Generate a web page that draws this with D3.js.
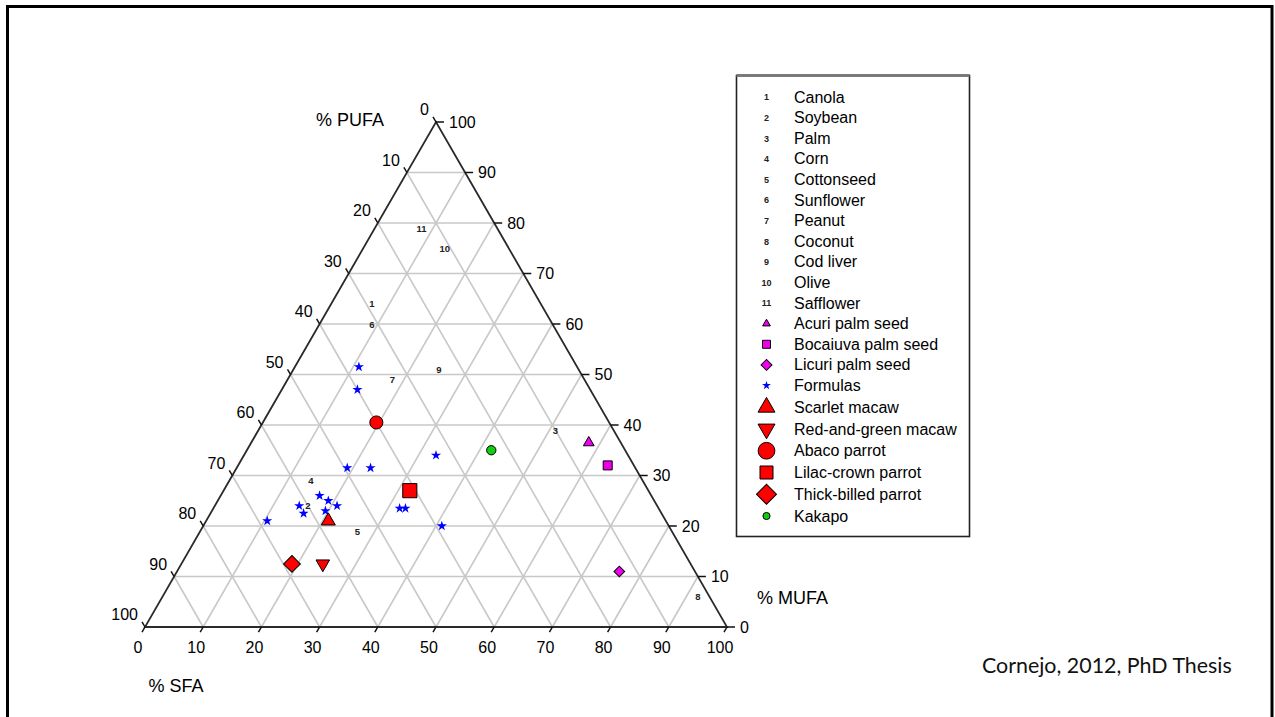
<!DOCTYPE html>
<html>
<head>
<meta charset="utf-8">
<script src="https://cdn.jsdelivr.net/npm/d3@7"></script>
<style>
  html, body { margin: 0; padding: 0; background: #fff; }
  svg { display: block; font-family: "Liberation Sans", Arial, Helvetica, sans-serif; }
</style>
</head>
<body>
<svg id="chart" width="1275" height="717"></svg>
<script>
// ---- Fatty-acid composition (% of total fatty acids) ----

// Vegetable / fish oils, drawn as numbered labels
const oilNames = ["Canola", "Soybean", "Palm", "Corn", "Cottonseed", "Sunflower",
                  "Peanut", "Coconut", "Cod liver", "Olive", "Safflower"];
const oilSFA  = [ 7, 16, 51, 14, 27,  9, 18, 92, 25, 14,  8];
const oilMUFA = [64, 24, 39, 29, 19, 60, 49,  6, 51, 75, 79];
const oilPUFA = [29, 60, 10, 57, 54, 31, 33,  2, 24, 11, 13];

// Commercial formula diets
const formulaSFA  = [11,   13, 33, 19,   23,   17, 19, 21, 14.5, 16,   19.5, 32,   33,   10.5, 41];
const formulaMUFA = [51.5, 47, 34, 31.5, 31.5, 26, 25, 24, 24,   22.5, 23,   23.5, 23.5, 21,   20];
const formulaPUFA = [37.5, 40, 33, 49.5, 45.5, 57, 56, 55, 61.5, 61.5, 57.5, 44.5, 43.5, 68.5, 39];

// Palm seeds and wild parrot crop contents
const sampleNames = ["Acuri palm seed", "Bocaiuva palm seed", "Licuri palm seed",
                     "Scarlet macaw", "Red-and-green macaw", "Abaco parrot",
                     "Lilac-crown parrot", "Thick-billed parrot", "Kakapo"];
const sampleSFA  = [58,   63.5, 76, 21, 24.3, 19.5, 32, 19,   42];
const sampleMUFA = [36.5, 32,   11, 21, 12.5, 40.5, 27, 12.5, 35];
const samplePUFA = [ 5.5,  4.5, 13, 58, 63.2, 40,   41, 68.5, 23];

// Axis ticks and titles
const tickValues = [0, 10, 20, 30, 40, 50, 60, 70, 80, 90, 100];
const gridValues = [10, 20, 30, 40, 50, 60, 70, 80, 90];
const titleSFA = "% SFA", titleMUFA = "% MUFA", titlePUFA = "% PUFA";
const formulaName = "Formulas";
const creditText = "Cornejo, 2012, PhD Thesis";

// ---- Marker styles ----
const RED = "#ff0000", MAGENTA = "#ee00ee", GREEN = "#11cc11", BLUE = "#0000ff";
const sampleStyle = {
  "Acuri palm seed":     { shape: "triangle",     fill: MAGENTA, plot: 50,  legend: 26 },
  "Bocaiuva palm seed":  { shape: "square",       fill: MAGENTA, plot: 81,  legend: 64 },
  "Licuri palm seed":    { shape: "diamond",      fill: MAGENTA, plot: 57,  legend: 60 },
  "Scarlet macaw":       { shape: "triangle",     fill: RED,     plot: 85,  legend: 125 },
  "Red-and-green macaw": { shape: "triangleDown", fill: RED,     plot: 80,  legend: 125 },
  "Abaco parrot":        { shape: "circle",       fill: RED,     plot: 135, legend: 220 },
  "Lilac-crown parrot":  { shape: "square",       fill: RED,     plot: 200, legend: 169 },
  "Thick-billed parrot": { shape: "diamond",      fill: RED,     plot: 140, legend: 200 },
  "Kakapo":              { shape: "circle",       fill: GREEN,   plot: 68,  legend: 40 }
};
const formulaStyle = { shape: "star", fill: BLUE, plot: 32, legend: 24 };

function symbolPath(shape, size) {
  const type = { triangle: d3.symbolTriangle, triangleDown: d3.symbolTriangle,
                 square: d3.symbolSquare, diamond: d3.symbolSquare,
                 circle: d3.symbolCircle, star: d3.symbolStar }[shape];
  return d3.symbol(type, size)();
}
function symbolRotation(shape) {
  return shape === "diamond" ? 45 : shape === "triangleDown" ? 180 : 0;
}

// ---- Ternary projection ----
const svg = d3.select("#chart");
const sx = d3.scaleLinear().domain([0, 100]).range([145, 727]);
const sy = d3.scaleLinear().domain([0, 100]).range([627, 122]);
const vPUFA = [sx(0), sy(0)];      // bottom-left corner: 100 % PUFA
const vSFA  = [sx(100), sy(0)];    // bottom-right corner: 100 % SFA
const vMUFA = [sx(50), sy(100)];   // apex: 100 % MUFA
function project(sfa, mufa, pufa) {
  const t = sfa + mufa + pufa;
  return [(pufa * vPUFA[0] + sfa * vSFA[0] + mufa * vMUFA[0]) / t,
          (pufa * vPUFA[1] + sfa * vSFA[1] + mufa * vMUFA[1]) / t];
}

// page frame
svg.append("rect")
  .attr("x", 7.5).attr("y", 6.5).attr("width", 1264.5).attr("height", 740)
  .attr("fill", "none").attr("stroke", "#000").attr("stroke-width", 3);

// ---- Grid ----
const line = d3.line();
const grid = svg.append("g").attr("stroke", "#c8c8c8").attr("stroke-width", 1.6).attr("fill", "none");
gridValues.forEach(k => {
  grid.append("path").attr("d", line([project(0, k, 100 - k), project(100 - k, k, 0)]));   // MUFA = k
  grid.append("path").attr("d", line([project(k, 0, 100 - k), project(k, 100 - k, 0)]));   // SFA = k
  grid.append("path").attr("d", line([project(100 - k, 0, k), project(0, 100 - k, k)]));   // PUFA = k
});

// triangle outline
svg.append("path")
  .attr("d", line([vPUFA, vSFA, vMUFA]) + "Z")
  .attr("fill", "none").attr("stroke", "#2a2a2a").attr("stroke-width", 1.8)
  .attr("stroke-linejoin", "miter");

// ---- Axes ----
const axes = svg.append("g").attr("font-size", 16).attr("fill", "#000");
const tickStroke = "#111";
tickValues.forEach(t => {
  // bottom: SFA, ticks along constant-SFA lines
  const b = project(t, 0, 100 - t);
  axes.append("line").attr("x1", b[0]).attr("y1", b[1]).attr("x2", b[0] - 3).attr("y2", b[1] + 5.2)
    .attr("stroke", tickStroke).attr("stroke-width", 1.5);
  axes.append("text").attr("x", b[0] - 7).attr("y", b[1] + 26).attr("text-anchor", "middle").text(t);

  // right: MUFA, horizontal ticks
  const r = project(100 - t, t, 0);
  axes.append("line").attr("x1", r[0]).attr("y1", r[1]).attr("x2", r[0] + 8).attr("y2", r[1])
    .attr("stroke", tickStroke).attr("stroke-width", 1.5);
  axes.append("text").attr("x", r[0] + 13).attr("y", r[1] + 5.5).attr("text-anchor", "start").text(t);

  // left: PUFA, ticks along constant-PUFA lines
  const l = project(0, 100 - t, t);
  axes.append("line").attr("x1", l[0]).attr("y1", l[1]).attr("x2", l[0] - 3).attr("y2", l[1] - 5.2)
    .attr("stroke", tickStroke).attr("stroke-width", 1.5);
  axes.append("text").attr("x", l[0] - 7).attr("y", l[1] - 7).attr("text-anchor", "end").text(t);
});

const titles = svg.append("g").attr("font-size", 18).attr("fill", "#000");
titles.append("text").attr("x", 350).attr("y", 126).attr("text-anchor", "middle").text(titlePUFA);
titles.append("text").attr("x", 757).attr("y", 604).attr("text-anchor", "start").text(titleMUFA);
titles.append("text").attr("x", 176).attr("y", 692).attr("text-anchor", "middle").text(titleSFA);

// ---- Data ----
const marks = svg.append("g");

// numbered oils
oilNames.forEach((name, i) => {
  const p = project(oilSFA[i], oilMUFA[i], oilPUFA[i]);
  marks.append("text").attr("x", p[0]).attr("y", p[1] + 3.5)
    .attr("text-anchor", "middle").attr("font-size", 9.5).attr("font-weight", "bold")
    .attr("fill", "#222").text(i + 1);
});

// formulas (stars)
formulaSFA.forEach((s, i) => {
  const p = project(s, formulaMUFA[i], formulaPUFA[i]);
  marks.append("path").attr("d", symbolPath(formulaStyle.shape, formulaStyle.plot))
    .attr("transform", `translate(${p[0]},${p[1]})`)
    .attr("fill", formulaStyle.fill);
});

// seeds and parrot samples
sampleNames.forEach((name, i) => {
  const st = sampleStyle[name];
  const p = project(sampleSFA[i], sampleMUFA[i], samplePUFA[i]);
  marks.append("path").attr("d", symbolPath(st.shape, st.plot))
    .attr("transform", `translate(${p[0]},${p[1]}) rotate(${symbolRotation(st.shape)})`)
    .attr("fill", st.fill).attr("stroke", "#000").attr("stroke-width", 1);
});

// ---- Legend ----
const legendItems = []
  .concat(oilNames.map((n, i) => ({ label: n, number: i + 1 })))
  .concat(sampleNames.slice(0, 3).map(n => ({ label: n, style: sampleStyle[n] })))
  .concat([{ label: formulaName, style: formulaStyle, noStroke: true }])
  .concat(sampleNames.slice(3).map(n => ({ label: n, style: sampleStyle[n] })));

const legend = svg.append("g");
legend.append("rect").attr("x", 736.5).attr("y", 75.5).attr("width", 233).attr("height", 461)
  .attr("fill", "#fff").attr("stroke", "#222").attr("stroke-width", 1.6);
legend.append("line").attr("x1", 736.5).attr("x2", 969.5).attr("y1", 75.5).attr("y2", 75.5)
  .attr("stroke", "#7a7a7a").attr("stroke-width", 3);

const rowY = d3.scaleLinear().domain([0, 14, legendItems.length - 1]).range([97, 385.5, 516]);
legendItems.forEach((d, i) => {
  const y = rowY(i);
  if (d.number !== undefined) {
    legend.append("text").attr("x", 766.5).attr("y", y + 3.3).attr("text-anchor", "middle")
      .attr("font-size", 9).attr("font-weight", "bold").attr("fill", "#222").text(d.number);
  } else {
    const p = legend.append("path").attr("d", symbolPath(d.style.shape, d.style.legend))
      .attr("transform", `translate(766.5,${y}) rotate(${symbolRotation(d.style.shape)})`)
      .attr("fill", d.style.fill);
    if (!d.noStroke) p.attr("stroke", "#000").attr("stroke-width", 1);
  }
  legend.append("text").attr("x", 794).attr("y", y + 5.5).attr("font-size", 16)
    .attr("fill", "#000").text(d.label);
});

// source credit
svg.append("text").attr("x", 982).attr("y", 673)
  .attr("font-family", "Lato, 'Open Sans', sans-serif").attr("font-size", 21.4)
  .attr("fill", "#111").text(creditText);
</script>
</body>
</html>
